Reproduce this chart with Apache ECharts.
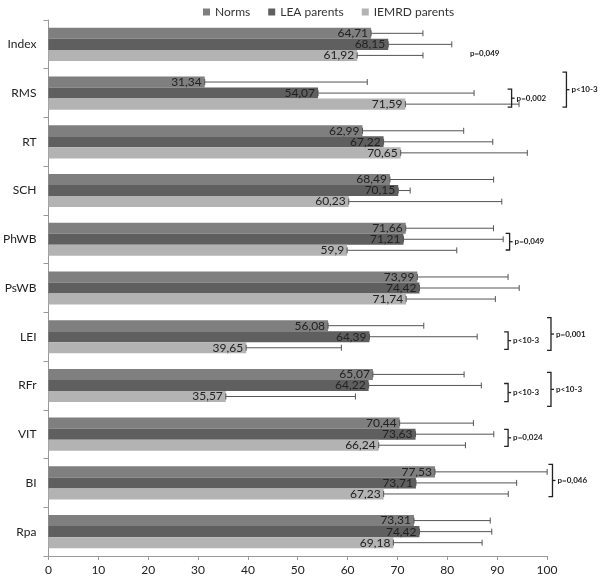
<!DOCTYPE html>
<html>
<head>
<meta charset="utf-8">
<script src="https://cdn.jsdelivr.net/npm/echarts@6/dist/echarts.min.js"></script>
<style>html,body{margin:0;padding:0;background:#fff}#c{width:600px;height:576px}</style>
</head>
<body>
<div id="c"></div>
<script>
var categories = ['Index','RMS','RT','SCH','PhWB','PsWB','LEI','RFr','VIT','BI','Rpa'];
var seriesNames = ['Norms','LEA parents','IEMRD parents'];
var norms = [64.71,31.34,62.99,68.49,71.66,73.99,56.08,65.07,70.44,77.53,73.31];
var lea   = [68.15,54.07,67.22,70.15,71.21,74.42,64.39,64.22,73.63,73.71,74.42];
var iemrd = [61.92,71.59,70.65,60.23,59.9,71.74,39.65,35.57,66.24,67.23,69.18];
// upper error (SD)
var normsErr = [10.4,32.6,20.3,20.8,17.6,18.2,19.2,18.3,14.8,22.5,15.3];
var leaErr   = [12.75,31.3,21.9,2.4,20.0,20.0,21.6,22.6,15.7,20.2,14.5];
var iemrdErr = [13.2,22.8,25.4,30.7,22.0,17.9,19.1,26.0,17.4,25.0,17.8];
var xTicks = [0,10,20,30,40,50,60,70,80,90,100];
// p-value annotations: category, x (data units), bracket span (fraction of band), label
var pNotes = [
  {cat:'Index', x:87.5, y0:null, y1:0.18, label:'p=0,049'},
  {cat:'RMS',  x:92.9,  y0:-0.08, y1:0.29, label:'p=0,002'},
  {cat:'RMS',  x:103.9, y0:-0.43, y1:0.29, label:'p<10-3'},
  {cat:'PhWB', x:92.5,  y0:-0.12, y1:0.22, label:'p=0,049'},
  {cat:'LEI',  x:92.2,  y0:-0.10, y1:0.26, label:'p<10-3'},
  {cat:'LEI',  x:100.8, y0:-0.39, y1:0.28, label:'p=0,001'},
  {cat:'RFr',  x:92.2,  y0:-0.04, y1:0.33, label:'p<10-3'},
  {cat:'RFr',  x:100.8, y0:-0.27, y1:0.43, label:'p<10-3'},
  {cat:'VIT',  x:92.2,  y0:-0.10, y1:0.25, label:'p=0,024'},
  {cat:'BI',   x:101.1, y0:-0.38, y1:0.28, label:'p=0,046'}
];

var FONT = 'Lato';
var colors = ['#7f7f7f','#5f5f5f','#b3b3b3'];
var values = [norms, lea, iemrd];
var errs = [normsErr, leaErr, iemrdErr];
var GAP = 0.32;

function fmt(v){ return String(v).replace('.', ','); }

var series = [];
values.forEach(function(vals, k){
  series.push({
    name: seriesNames[k], type: 'bar', data: vals,
    barGap: '0%', barCategoryGap: (GAP*100)+'%',
    itemStyle: {color: colors[k]},
    label: {show: true, position: 'insideRight', distance: 3, color: '#222',
      fontFamily: FONT, fontSize: 12, formatter: function(p){ return fmt(p.value); }},
    z: 2
  });
});
values.forEach(function(vals, k){
  series.push({
    type: 'custom', name: seriesNames[k] + ' err', silent: true, z: 5,
    data: vals.map(function(v, i){ return [v, i, errs[k][i]]; }),
    encode: {x: 0, y: 1},
    renderItem: function(params, api){
      var v = api.value(0), i = api.value(1), e = api.value(2);
      var band = api.size([0, 1])[1];
      var bw = band * (1 - GAP) / 3;
      var p0 = api.coord([v, i]);
      var p1 = api.coord([v + e, i]);
      var y = p0[1] + (k - 1) * bw;
      var h = 3;
      var st = {stroke: '#555', lineWidth: 1};
      return {type: 'group', children: [
        {type:'line', shape:{x1:p0[0], y1:y, x2:p1[0], y2:y}, style: st},
        {type:'line', shape:{x1:p1[0], y1:y-h, x2:p1[0], y2:y+h}, style: st},
        {type:'line', shape:{x1:p0[0], y1:y-h, x2:p0[0], y2:y+h}, style: st}
      ]};
    }
  });
});
series.push({
  type: 'custom', silent: true, z: 6,
  data: pNotes.map(function(n, j){ return [n.x, categories.indexOf(n.cat), j]; }),
  encode: {x: 0, y: 1},
  renderItem: function(params, api){
    var n = pNotes[api.value(2)];
    var band = api.size([0, 1])[1];
    var p = api.coord([api.value(0), api.value(1)]);
    var st = {stroke: '#222', lineWidth: 1.3, fill: null};
    var tstyle = {fontFamily: FONT, fontSize: 8, fontWeight: 'bold', fill: '#222', textVerticalAlign: 'middle', verticalAlign: 'middle'};
    if (n.y0 === null) {
      return {type: 'text', x: p[0], y: p[1] + n.y1 * band,
        style: Object.assign({text: n.label, textAlign: 'center', align: 'center'}, tstyle)};
    }
    var ya = p[1] + n.y0 * band, yb = p[1] + n.y1 * band, ym = (ya + yb) / 2;
    var x = p[0];
    return {type: 'group', children: [
      {type: 'polyline', shape: {points: [[x-4, ya], [x, ya], [x, yb], [x-4, yb]]}, style: st},
      {type: 'line', shape: {x1: x, y1: ym, x2: x+3, y2: ym}, style: st},
      {type: 'text', x: x + 5, y: ym, style: Object.assign({text: n.label, textAlign: 'left', align: 'left'}, tstyle)}
    ]};
  }
});

var chart = echarts.init(document.getElementById('c'));
chart.setOption({
  animation: false,
  backgroundColor: '#fff',
  textStyle: {fontFamily: FONT},
  legend: {
    data: seriesNames, top: 1, left: 198, itemWidth: 7, itemHeight: 7, itemGap: 18,
    icon: 'rect', textStyle: {fontFamily: FONT, fontSize: 12, color: '#333'}
  },
  grid: {left: 40, right: 53, top: 20, bottom: 19, containLabel: false},
  xAxis: {
    type: 'value', min: xTicks[0], max: xTicks[xTicks.length-1], interval: 10,
    axisLine: {show: true, lineStyle: {color: '#999'}},
    axisTick: {show: true, length: 4, lineStyle: {color: '#999'}},
    splitLine: {show: false},
    axisLabel: {color: '#222', fontFamily: FONT, fontSize: 12, margin: 8}
  },
  yAxis: {
    type: 'category', data: categories, inverse: true,
    axisLine: {show: true, lineStyle: {color: '#999'}},
    axisTick: {show: true, length: 5, lineStyle: {color: '#999'}},
    axisLabel: {color: '#222', fontFamily: FONT, fontSize: 12, margin: 12}
  },
  series: series
});
</script>
</body>
</html>
